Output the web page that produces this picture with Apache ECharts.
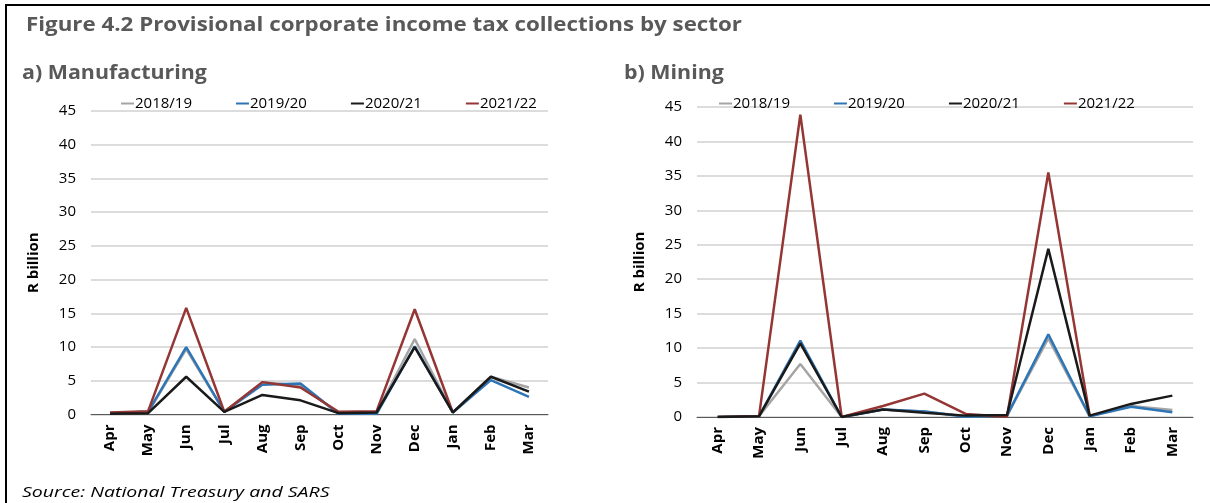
<!DOCTYPE html>
<html>
<head>
<meta charset="utf-8">
<style>
  html, body { margin: 0; padding: 0; background: #fff; }
  #chart { width: 1210px; height: 503px; }
</style>
<script src="https://cdn.jsdelivr.net/npm/echarts@6/dist/echarts.min.js"></script>
</head>
<body>
<div id="chart"></div>
<script>
// 月份（财年 4 月到次年 3 月）
const months = ['Apr', 'May', 'Jun', 'Jul', 'Aug', 'Sep', 'Oct', 'Nov', 'Dec', 'Jan', 'Feb', 'Mar'];
const years = ['2018/19', '2019/20', '2020/21', '2021/22'];
const yTicks = [0, 5, 10, 15, 20, 25, 30, 35, 40, 45];

// a) Manufacturing, R billion
const mfg1819 = [0.2, 0.3, 9.7, 0.4, 4.8, 4.3, 0.2, 0.3, 11.2, 0.3, 5.6, 4.0];
const mfg1920 = [0.2, 0.4, 10.0, 0.4, 4.4, 4.6, 0.1, 0.1, 10.1, 0.3, 5.1, 2.6];
const mfg2021 = [0.1, 0.2, 5.6, 0.4, 2.9, 2.1, 0.2, 0.3, 10.0, 0.3, 5.6, 3.4];
const mfg2122 = [0.3, 0.5, 15.8, 0.4, 4.8, 4.0, 0.4, 0.5, 15.6, 0.3, null, null];

// b) Mining, R billion
const min1819 = [0.0, 0.1, 7.7, 0.0, 1.1, 0.8, 0.1, 0.2, 11.4, 0.1, 1.6, 1.0];
const min1920 = [0.0, 0.1, 11.1, 0.0, 1.1, 0.8, 0.05, 0.2, 12.0, 0.1, 1.5, 0.7];
const min2021 = [0.0, 0.1, 10.7, 0.0, 1.1, 0.6, 0.2, 0.3, 24.4, 0.2, 1.9, 3.1];
const min2122 = [0.0, 0.1, 43.9, 0.0, 1.6, 3.4, 0.45, 0.05, 35.5, 0.2, null, null];

const colors = ['#a5a5a5', '#2e75b6', '#1a1a1a', '#943634'];
const font = '"Open Sans", "Noto Sans", sans-serif';

const chart = echarts.init(document.getElementById('chart'));

function xAxisFor(idx) {
    return {
        type: 'category',
        gridIndex: idx,
        data: months,
        axisLine: { lineStyle: { color: '#595959', width: 1 } },
        axisTick: { show: false },
        axisLabel: {
            rotate: 90,
            interval: 0,
            margin: 10,
            fontFamily: font,
            fontSize: 15,
            fontWeight: 'bold',
            color: '#000'
        }
    };
}

function yAxisFor(idx) {
    return {
        type: 'value',
        gridIndex: idx,
        min: yTicks[0],
        max: yTicks[yTicks.length - 1],
        interval: 5,
        name: 'R billion',
        nameLocation: 'middle',
        nameGap: 50,
        nameTextStyle: { fontFamily: font, fontSize: 15, fontWeight: 'bold', color: '#000' },
        axisLine: { show: false },
        axisTick: { show: false },
        axisLabel: { margin: 15, fontFamily: font, fontSize: 15, color: '#000' },
        splitLine: { lineStyle: { color: '#d0d0d0', width: 1.5 } }
    };
}

function seriesFor(idx, arr) {
    return arr.map((d, i) => ({
        name: years[i],
        type: 'line',
        xAxisIndex: idx,
        yAxisIndex: idx,
        data: d,
        showSymbol: false,
        connectNulls: false,
        lineStyle: { width: 2.5, color: colors[i] },
        itemStyle: { color: colors[i] },
        z: 2 + (i === 2 ? 1 : 0)
    }));
}

function legendFor(left, top) {
    return {
        data: years,
        left: left,
        top: top,
        icon: 'rect',
        itemWidth: 13,
        itemHeight: 2,
        itemGap: 44,
        textStyle: { fontFamily: font, fontSize: 15, color: '#000', padding: [0, 0, 0, -4] }
    };
}

// 标题文字（原图横向略宽，用 scaleX 拉伸）
function label(text, x, y, size, sx, weight, style, color) {
    return {
        type: 'text',
        x: x,
        y: y,
        scaleX: sx,
        style: {
            text: text,
            fontFamily: font,
            fontSize: size,
            fontWeight: weight,
            fontStyle: style,
            fill: color,
            verticalAlign: 'top'
        }
    };
}

const option = {
    backgroundColor: '#fff',
    animation: false,
    color: colors,
    legend: [legendFor(116, 91), legendFor(714, 91)],
    grid: [
        { left: 91, right: 662, top: 111, bottom: 88.5 },
        { left: 697, right: 17, top: 107, bottom: 86 }
    ],
    xAxis: [xAxisFor(0), xAxisFor(1)],
    yAxis: [yAxisFor(0), yAxisFor(1)],
    series: [
        ...seriesFor(0, [mfg1819, mfg1920, mfg2021, mfg2122]),
        ...seriesFor(1, [min1819, min1920, min2021, min2122])
    ],
    graphic: [
        { type: 'line', shape: { x1: 5, y1: 5, x2: 1210, y2: 5 }, style: { stroke: '#000', lineWidth: 2 } },
        { type: 'line', shape: { x1: 6, y1: 5, x2: 6, y2: 503 }, style: { stroke: '#000', lineWidth: 2 } },
        label('Figure 4.2 Provisional corporate income tax collections by sector', 26, 16, 19, 1.175, 'bold', 'normal', '#595959'),
        label('a) Manufacturing', 22, 63, 20, 1.07, 'bold', 'normal', '#595959'),
        label('b) Mining', 624, 63, 20, 1.07, 'bold', 'normal', '#595959'),
        label('Source: National Treasury and SARS', 22, 485, 15, 1.3, 'normal', 'italic', '#000')
    ]
};

chart.setOption(option);
</script>
</body>
</html>
